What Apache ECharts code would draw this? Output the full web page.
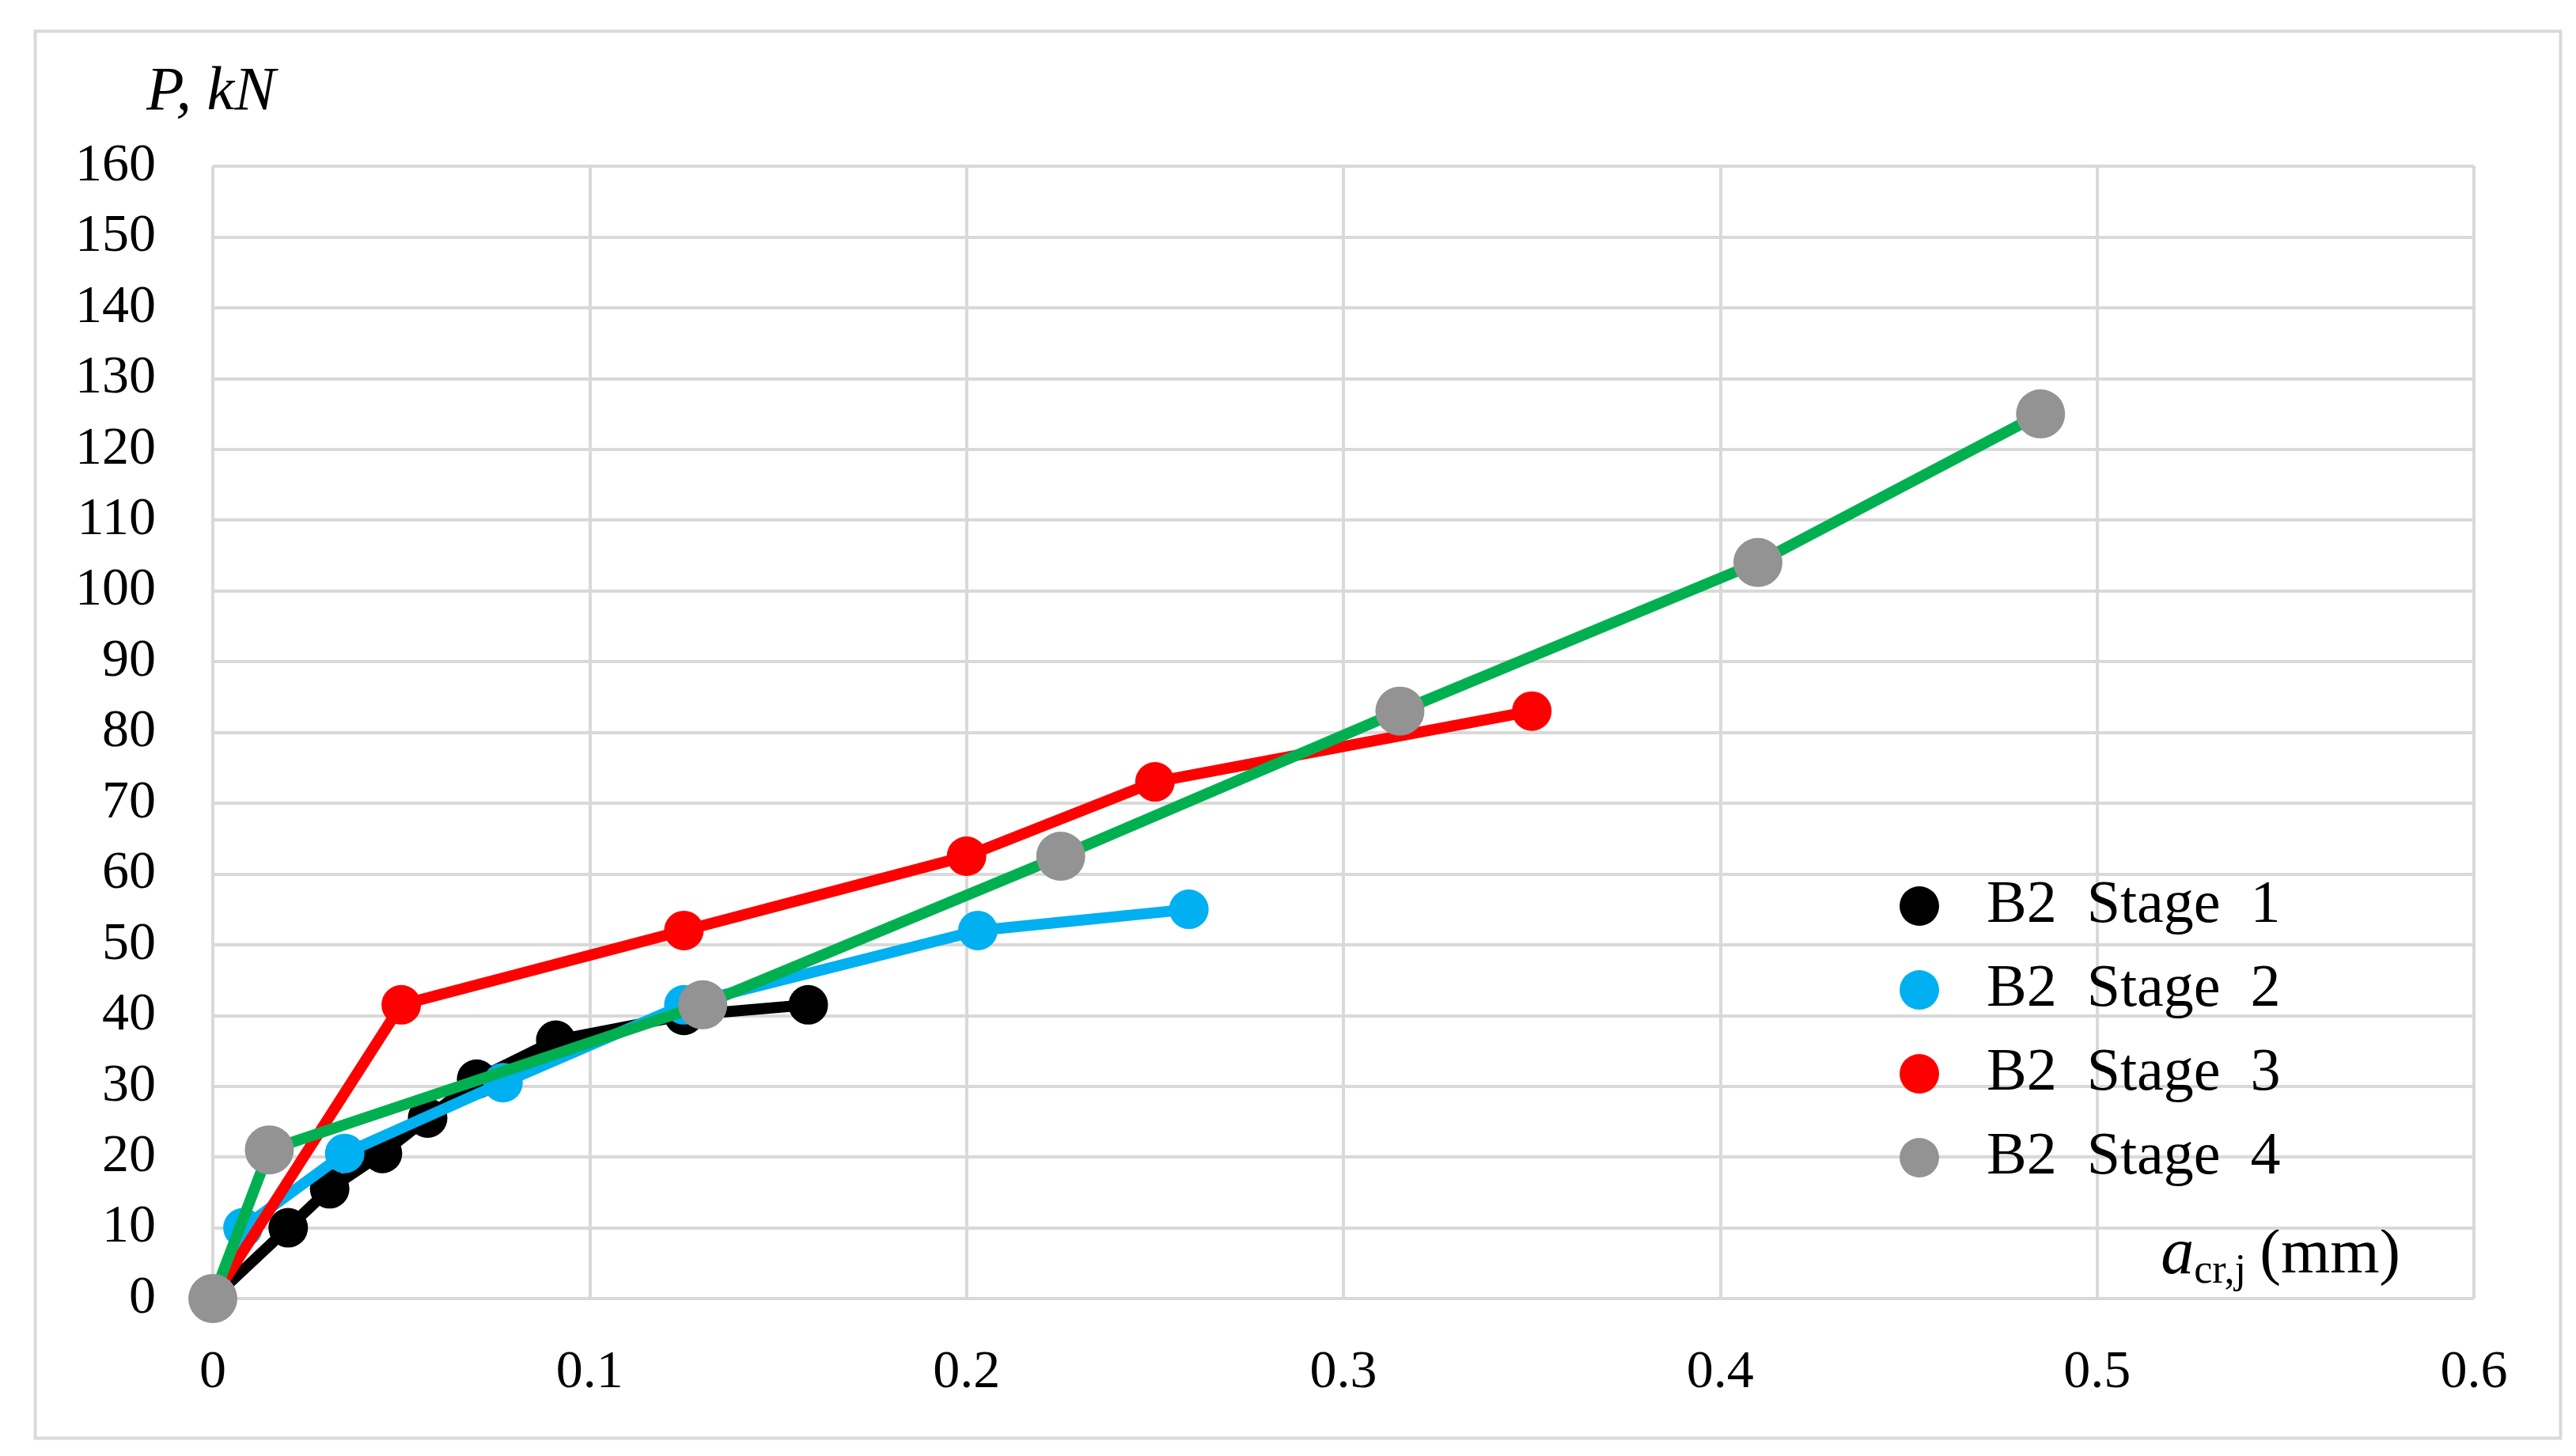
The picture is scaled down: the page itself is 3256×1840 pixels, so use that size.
<!DOCTYPE html>
<html>
<head>
<meta charset="utf-8">
<script src="https://cdn.jsdelivr.net/npm/echarts@6/dist/echarts.min.js"></script>
<style>
html, body { margin: 0; padding: 0; background: #fff; }
#chart { width: 3256px; height: 1840px; }
</style>
</head>
<body>
<div id="chart"></div>
<script>
// 各阶段数据 [a_cr,j (mm), P (kN)]
const stage1 = [[0, 0], [0.02, 10], [0.031, 15.5], [0.045, 20.5], [0.057, 25.5], [0.07, 31], [0.091, 36.5], [0.125, 40], [0.158, 41.5]];
const stage2 = [[0, 0], [0.008, 10], [0.035, 20.5], [0.077, 30.5], [0.125, 41.5], [0.203, 52], [0.259, 55]];
const stage3 = [[0, 0], [0.05, 41.5], [0.125, 52], [0.2, 62.5], [0.25, 73], [0.35, 83]];
const stage4 = [[0, 0], [0.015, 21], [0.13, 41.5], [0.225, 62.5], [0.315, 83], [0.41, 104], [0.485, 125]];
const seriesNames = ['B2  Stage  1', 'B2  Stage  2', 'B2  Stage  3', 'B2  Stage  4'];
const lineColors = ['#000000', '#00b0f0', '#ff0000', '#00b050'];
const markerColors = ['#000000', '#00b0f0', '#ff0000', '#939393'];

const font = '"Liberation Serif", "Times New Roman", serif';
const chart = echarts.init(document.getElementById('chart'));

const allData = [stage1, stage2, stage3, stage4];

chart.setOption({
	animation: false,
	backgroundColor: '#fff',
	grid: { left: 269, right: 129, top: 210, bottom: 199 },
	legend: {
		orient: 'vertical',
		left: 2396,
		top: 1102,
		itemWidth: 180,
		itemHeight: 50,
		itemGap: 30,
		textStyle: { fontFamily: font, fontSize: 76, color: '#000', padding: [0, 0, 0, -10] },
		data: seriesNames.map((n, i) => ({
			name: n,
			icon: 'circle',
			itemStyle: { color: markerColors[i] }
		}))
	},
	xAxis: {
		type: 'value',
		min: 0, max: 0.6, interval: 0.1,
		axisLine: { show: false },
		axisTick: { show: false },
		axisLabel: { fontFamily: font, fontSize: 68, color: '#000', margin: 60 },
		splitLine: { lineStyle: { color: '#d9d9d9', width: 4 } }
	},
	yAxis: {
		type: 'value',
		min: 0, max: 160, interval: 10,
		axisLine: { show: false },
		axisTick: { show: false },
		axisLabel: { fontFamily: font, fontSize: 68, color: '#000', margin: 72 },
		splitLine: { lineStyle: { color: '#d9d9d9', width: 4 } }
	},
	graphic: [
		{
			type: 'rect', left: 42, top: 37,
			shape: { width: 3192, height: 1778 },
			style: { fill: 'none', stroke: '#d9d9d9', lineWidth: 4 }, silent: true
		},
		{
			type: 'text', left: 185, top: 78,
			style: { text: 'P, kN', font: 'italic 78px ' + font, fill: '#000' }
		},
		{
			type: 'text', right: 222, top: 1545,
			style: {
				text: '{a|a}{s|cr,j} {m|(mm)}',
				rich: {
					a: { font: 'italic 84px ' + font, fill: '#000' },
					s: { font: '52px ' + font, fill: '#000', padding: [40, 0, 0, 0] },
					m: { font: '80px ' + font, fill: '#000', padding: [0, 0, 0, 14] }
				}
			}
		}
	],
	series: allData.map((d, i) => ({
		name: seriesNames[i],
		type: 'line',
		data: d,
		symbol: 'circle',
		symbolSize: i === 3 ? 62 : 50,
		lineStyle: { color: lineColors[i], width: 14 },
		itemStyle: { color: markerColors[i] },
		z: 2 + i
	}))
});
</script>
</body>
</html>
